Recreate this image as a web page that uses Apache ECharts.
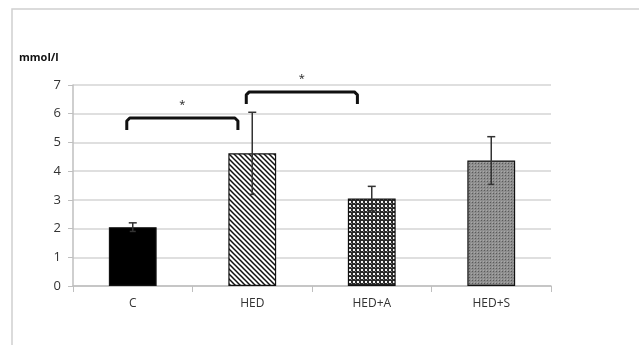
<!DOCTYPE html>
<html><head><meta charset="utf-8">
<script src="https://cdn.jsdelivr.net/npm/echarts@6/dist/echarts.min.js"></script>
<style>html,body{margin:0;padding:0;background:#fff}#c{width:639px;height:345px}</style>
</head><body><div id="c"></div>
<script>
const categories = ['C', 'HED', 'HED+A', 'HED+S'];
const means = [2.05, 4.62, 3.05, 4.37];
const errors = [0.15, 1.43, 0.42, 0.83];
const yTicks = [0, 1, 2, 3, 4, 5, 6, 7];
// significance brackets: [fromIndex, toIndex, level]
const brackets = [[0, 1, 5.85], [1, 2, 6.76]];
const unitLabel = 'mmol/l';

function pat(w, h, draw) {
  const c = document.createElement('canvas'); c.width = w; c.height = h;
  const x = c.getContext('2d'); draw(x); return c;
}
const stripes = pat(5, 5, x => {
  x.fillStyle = '#fff'; x.fillRect(0, 0, 5, 5);
  x.strokeStyle = '#111'; x.lineWidth = 1.5;
  x.beginPath();
  x.moveTo(-1, -1); x.lineTo(6, 6);
  x.moveTo(-4, 1); x.lineTo(4, 9);
  x.moveTo(1, -4); x.lineTo(9, 4);
  x.stroke();
});
const checker = pat(4, 4, x => {
  x.fillStyle = '#2a2a2a'; x.fillRect(0, 0, 4, 4);
  x.fillStyle = '#f4f4f4'; x.fillRect(1, 1, 2, 2);
  x.fillStyle = '#777'; x.fillRect(3, 3, 1, 1);
});
const dots = pat(3, 3, x => {
  x.fillStyle = '#8e8e8e'; x.fillRect(0, 0, 3, 3);
  x.fillStyle = '#5a5a5a'; x.fillRect(1, 1, 1, 1);
  x.fillStyle = '#a8a8a8'; x.fillRect(0, 0, 1, 1);
});
const fills = ['#000', {image: stripes, repeat: 'repeat'}, {image: checker, repeat: 'repeat'}, {image: dots, repeat: 'repeat'}];

const chart = echarts.init(document.getElementById('c'));
const font = 'Open Sans';
chart.setOption({
  animation: false,
  graphic: [{type: 'rect', shape: {x: 12, y: 9, width: 640, height: 345}, style: {fill: 'none', stroke: '#d0d0d0', lineWidth: 1.5}, silent: true}],
  grid: {left: 73, right: 88, top: 85, bottom: 59},
  xAxis: {
    type: 'category', data: categories,
    axisLine: {lineStyle: {color: '#bfbfbf', width: 1.5}},
    axisTick: {show: true, length: 6, lineStyle: {color: '#bfbfbf'}},
    axisLabel: {color: '#333', fontFamily: font, fontSize: 12, margin: 12}
  },
  yAxis: {
    type: 'value', min: 0, max: 7, interval: 1,
    name: unitLabel, nameLocation: 'end', nameGap: 22,
    nameTextStyle: {color: '#111', fontFamily: font, fontSize: 11, fontWeight: 'bold', align: 'left', padding: [0, 0, 0, -54]},
    axisLine: {show: true, lineStyle: {color: '#bfbfbf', width: 1.5}},
    axisTick: {show: true, length: 5, lineStyle: {color: '#bfbfbf'}},
    splitLine: {lineStyle: {color: '#d4d4d4', width: 1.5}},
    axisLabel: {color: '#333', fontFamily: font, fontSize: 13, margin: 12,
      formatter: v => yTicks.includes(v) ? String(v) : ''}
  },
  series: [
    {
      type: 'bar', barWidth: '40%',
      data: means.map((v, i) => ({value: v, itemStyle: {color: fills[i]}})),
      itemStyle: {borderColor: '#111', borderWidth: 1.2},
      z: 2
    },
    {
      type: 'custom', z: 5, clip: false,
      data: means.map((m, i) => [i, m - errors[i], m + errors[i]]),
      renderItem: (params, api) => {
        const lo = api.coord([api.value(0), api.value(1)]);
        const hi = api.coord([api.value(0), api.value(2)]);
        const s = {stroke: '#333', lineWidth: 1.5};
        return {type: 'group', children: [
          {type: 'line', shape: {x1: hi[0], y1: hi[1], x2: lo[0], y2: lo[1]}, style: s},
          {type: 'line', shape: {x1: hi[0] - 4, y1: hi[1], x2: hi[0] + 4, y2: hi[1]}, style: s},
          {type: 'line', shape: {x1: lo[0] - 3, y1: lo[1], x2: lo[0] + 3, y2: lo[1]}, style: s}
        ]};
      }
    },
    {
      type: 'custom', z: 6, clip: false,
      data: brackets,
      renderItem: (params, api) => {
        const band = api.size([1, 0])[0];
        const a = api.coord([api.value(0), api.value(2)]);
        const b = api.coord([api.value(1), api.value(2)]);
        const x1 = a[0] - band * 0.05, x2 = b[0] - band * 0.12, y = a[1];
        return {type: 'group', children: [
          {type: 'polyline', shape: {points: [[x1, y + 12], [x1, y + 3], [x1 + 3, y], [x2 - 3, y], [x2, y + 3], [x2, y + 12]]},
            style: {stroke: '#111', lineWidth: 3, fill: 'none', lineJoin: 'round'}},
          {type: 'text', style: {text: '*', x: (x1 + x2) / 2, y: y - 13, align: 'center', verticalAlign: 'middle',
            fill: '#222', font: '11px ' + font}}
        ]};
      }
    }
  ]
});
</script></body></html>
